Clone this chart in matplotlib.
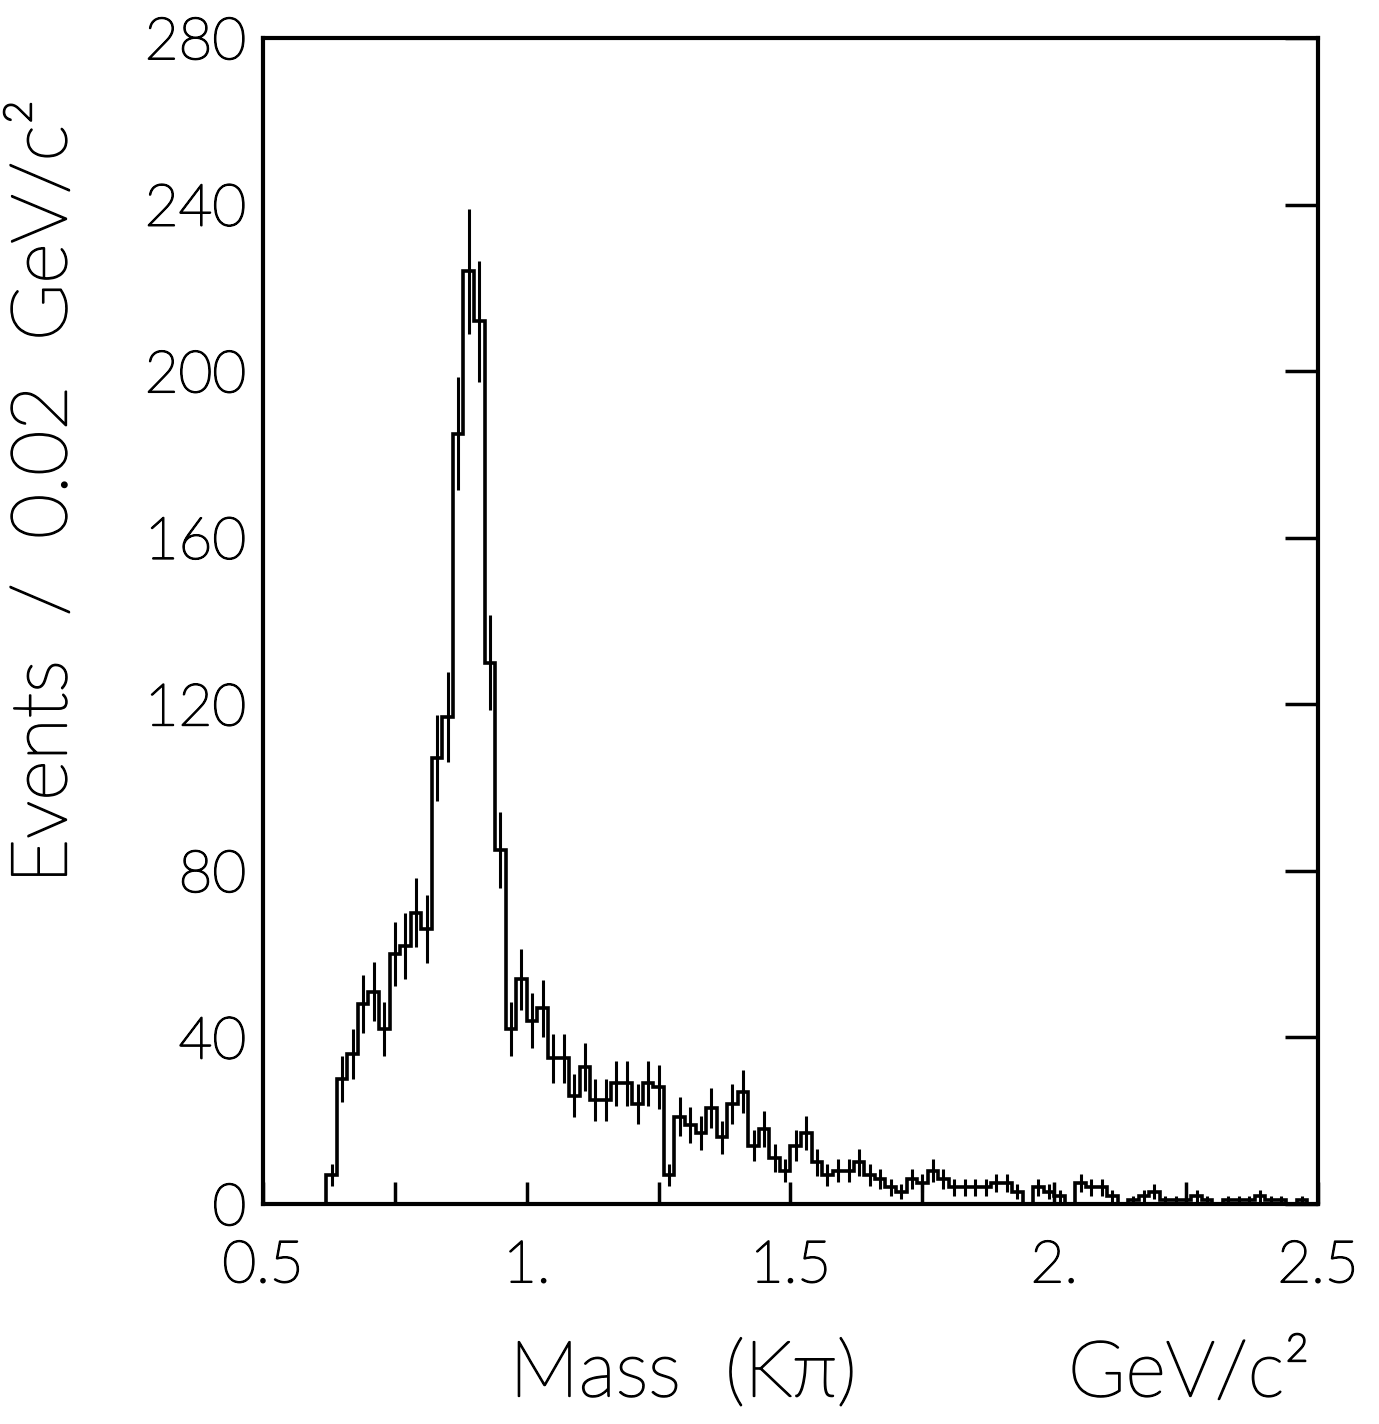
import numpy as np
import matplotlib
matplotlib.use("Agg")
import matplotlib.pyplot as plt
import matplotlib.patheffects as pe

plt.rcParams['font.family'] = ['Lato', 'Liberation Sans', 'DejaVu Sans']
plt.rcParams['font.weight'] = 'light'

# histogram of K pi mass, 0.02 GeV bins starting at 0.62 GeV
bin_start = 0.62
bin_width = 0.02
counts = [7, 30, 36, 48, 51, 42, 60, 62, 70, 66,
          107, 117, 185, 224, 212, 130, 85, 42, 54, 44,
          47, 35, 35, 26, 33, 25, 25, 29, 29, 24,
          29, 28, 7, 21, 19, 17, 23, 16, 24, 27,
          14, 18, 11, 8, 14, 17, 10, 7, 8, 8,
          10, 7, 6, 4, 3, 6, 5, 8, 6, 4,
          4, 4, 4, 5, 5, 3, 0, 4, 3, 2,
          0, 5, 4, 4, 2, 0, 1, 2, 3, 1,
          1, 1, 2, 1, 0, 1, 1, 1, 2, 1,
          1, 0, 1]

xticks = [0.5, 0.75, 1.0, 1.25, 1.5, 1.75, 2.0, 2.25, 2.5]
xticklabels = ['0.5', '', '1.', '', '1.5', '', '2.', '', '2.5']
yticks = [0, 40, 80, 120, 160, 200, 240, 280]

counts = np.array(counts, dtype=float)
edges = bin_start + bin_width * np.arange(len(counts) + 1)
centers = 0.5 * (edges[:-1] + edges[1:])
err = np.sqrt(counts)

W, H = 1379, 1424
fig = plt.figure(figsize=(W / 100, H / 100), dpi=100)
ax = fig.add_axes([263 / W, (H - 1204) / H, (1318 - 263) / W, (1204 - 38) / H])

ax.stairs(counts, edges, color='black', lw=2.6, baseline=0)
nz = counts > 0
ax.errorbar(centers[nz], counts[nz], yerr=err[nz], fmt='none',
            ecolor='black', elinewidth=2.2, capsize=0)

ax.set_xlim(0.5, 2.5)
ax.set_ylim(0, 280)
ax.set_xticks(xticks)
ax.set_xticklabels(xticklabels)
ax.set_yticks(yticks)

for s in ax.spines.values():
    s.set_linewidth(3)

ax.tick_params(axis='x', direction='in', length=16, width=2.5, pad=26,
               labelsize=42, top=False)
ax.tick_params(axis='y', direction='in', length=24, width=2.5, pad=12,
               labelsize=42, left=False, right=True,
               labelleft=True, labelright=False)

# thicken the light strokes a little, like the plotter font
bold = [pe.withStroke(linewidth=1.3, foreground='black')]
for lab in ax.get_xticklabels() + ax.get_yticklabels():
    lab.set_path_effects(bold)

fig.text(45 / W, 1 - 492 / H, 'Events  /  0.02  GeV/c\u00b2', rotation=90,
         ha='center', va='center', fontsize=56, path_effects=bold)
fig.text(683 / W, 1 - 1375 / H, 'Mass  (K\u03c0)', ha='center', va='center',
         fontsize=56, path_effects=bold)
fig.text(1310 / W, 1 - 1375 / H, 'GeV/c\u00b2', ha='right', va='center',
         fontsize=56, path_effects=bold)

fig.savefig('out.png', dpi=100, facecolor='white')
